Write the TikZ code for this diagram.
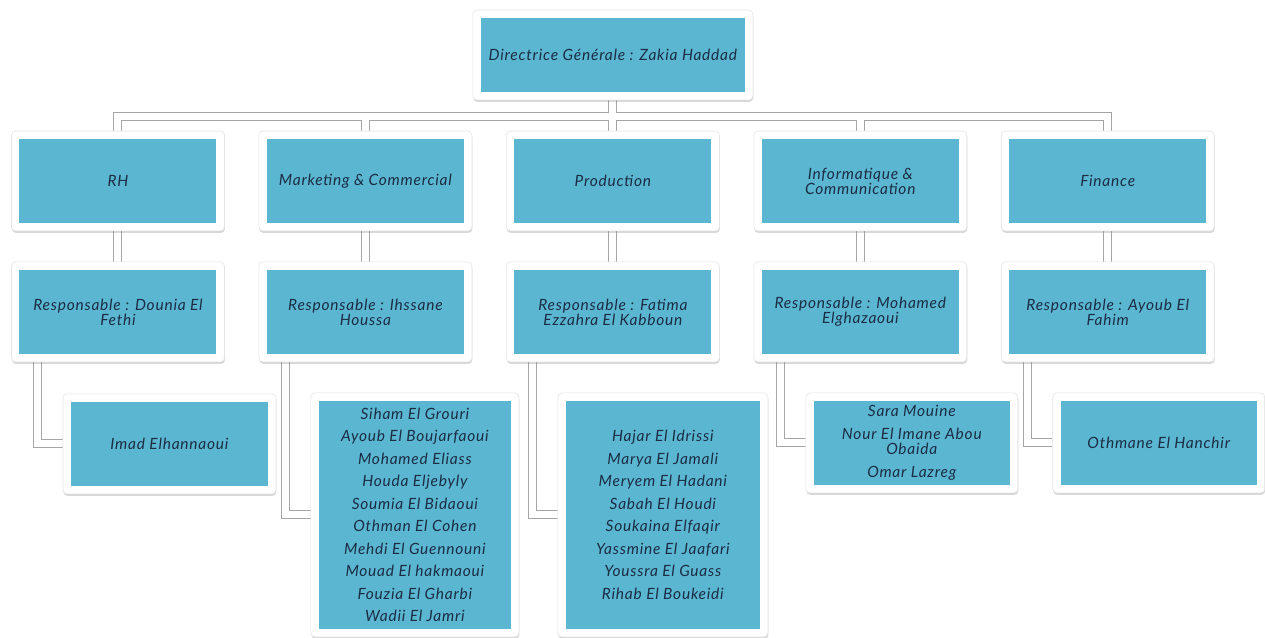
\documentclass[tikz,border=0pt]{standalone}
\usepackage{fontspec}
\setmainfont{Lato}[LetterSpace=5]
\usepackage{tikz}
\usetikzlibrary{shadows,calc}
\definecolor{turquoise}{HTML}{5BB7D1}
\definecolor{marine}{HTML}{1B2C44}
\definecolor{gris}{HTML}{A5A5A5}
\pgfdeclarelayer{fond}
\pgfsetlayers{fond,main}
\tikzset{boite/.style={
    rectangle,
    rounded corners=4pt,
    fill=white,
    draw=black!10,
    line width=0.6pt,
    drop shadow={opacity=0.3,shadow xshift=0.5pt,shadow yshift=-2pt},
    minimum width=213pt,
    minimum height=100pt,
    inner sep=0pt,
    align=center,
    text=marine,
    font=\fontsize{15.5}{15}\selectfont\itshape,
    path picture={\fill[turquoise,sharp corners]
      ([shift={(8pt,8pt)}]path picture bounding box.south west)
      rectangle ([shift={(-8pt,-8pt)}]path picture bounding box.north east);}}}

\begin{document}
\begin{tikzpicture}[x=1pt,y=-1pt]

\coordinate (bus) at (613,117);

% direction
\node[boite, minimum width=280pt, minimum height=90pt] (dg) at (613,55)
  {Directrice Générale : Zakia Haddad};

% services
\node[boite] (rh) at (118,181) {RH};
\node[boite] (mk) at (365.5,181) {Marketing \& Commercial};
\node[boite] (pr) at (613,181) {Production};
\node[boite] (inf) at (860.5,181) {Informatique \&\\Communication};
\node[boite] (fin) at (1108,181) {Finance};

% responsables
\node[boite] (rhr) at (118,312) {Responsable : Dounia El\\Fethi};
\node[boite] (mkr) at (365.5,312) {Responsable : Ihssane\\Houssa};
\node[boite] (prr) at (613,312) {Responsable : Fatima\\Ezzahra El Kabboun};
\node[boite] (infr) at (860.5,312) {Responsable : Mohamed\\Elghazaoui};
\node[boite] (finr) at (1108,312) {Responsable : Ayoub El\\Fahim};

% equipes
\node[boite] (rhe) at (169.5,444) {Imad Elhannaoui};
\node[boite,
  minimum width=208pt,
  minimum height=244pt] (mke) at (415,515)
  {Siham El Grouri\\[7.5pt]Ayoub El Boujarfaoui\\[7.5pt]Mohamed Eliass\\[7.5pt]Houda Eljebyly\\[7.5pt]Soumia El Bidaoui\\[7.5pt]Othman El Cohen\\[7.5pt]Mehdi El Guennouni\\[7.5pt]Mouad El hakmaoui\\[7.5pt]Fouzia El Gharbi\\[7.5pt]Wadii El Jamri};
\node[boite,
  minimum width=210pt,
  minimum height=244pt] (pre) at (663,515)
  {Hajar El Idrissi\\[7.5pt]Marya El Jamali\\[7.5pt]Meryem El Hadani\\[7.5pt]Sabah El Houdi\\[7.5pt]Soukaina Elfaqir\\[7.5pt]Yassmine El Jaafari\\[7.5pt]Youssra El Guass\\[7.5pt]Rihab El Boukeidi};
\node[boite, minimum width=212pt] (infe) at (912,443)
  {Sara Mouine\\[8pt]Nour El Imane Abou\\Obaida\\[8pt]Omar Lazreg};
\node[boite, minimum width=212pt] (fine) at (1159,443) {Othmane El Hanchir};

\begin{pgfonlayer}{fond}
\fill[white] (0,0) rectangle (1265,631);
\useasboundingbox (0,0) rectangle (1265,631);
\foreach \ep/\coul in {9pt/gris,7pt/white} {
  \draw[line width=\ep,draw=\coul] (dg) -- (bus) -| (rh);
  \draw[line width=\ep,draw=\coul] (bus) -| (fin);
  \foreach \s in {mk,pr,inf} {
    \draw[line width=\ep,draw=\coul] (bus) -| (\s);
  }
  \foreach \s in {rh,mk,pr,inf,fin} {
    \draw[line width=\ep,draw=\coul] (\s) -- (\s r);
    \draw[line width=\ep,draw=\coul] ([xshift=-80pt]\s r.center) |- (\s e);
  }
}
\end{pgfonlayer}

\end{tikzpicture}
\end{document}
